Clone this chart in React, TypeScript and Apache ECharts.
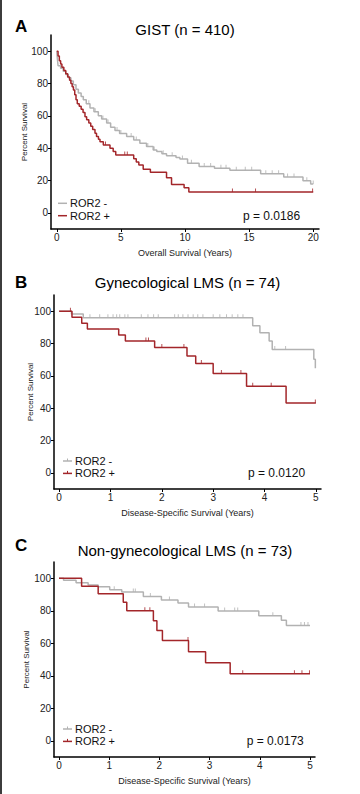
import React, { useEffect, useRef } from "react";
import * as echarts from "echarts";

// ---------- DATA ----------
// Kaplan-Meier step points [time (years), percent survival]
const gistNeg: number[][] = [
  [0, 100], [0.05, 95], [0.1, 91], [0.3, 89.5], [0.5, 87.6], [0.7, 85.5], [0.9, 83.5], [1.1, 81.5],
  [1.29, 79.3], [1.5, 76.5], [1.68, 74.2], [1.9, 72], [2.07, 70], [2.3, 67.5], [2.59, 64.8], [2.9, 62.5],
  [3.24, 60], [3.5, 58], [3.89, 55.5], [4.2, 53], [4.54, 51], [4.9, 49], [5.45, 47.2], [6.0, 45],
  [6.48, 43.1], [7.0, 41], [7.52, 38.9], [7.8, 37.9], [8.2, 36.5], [8.56, 35.3], [9.3, 34.2], [9.6, 33.3],
  [10.2, 30.7], [11.1, 28.6], [12.3, 27.6], [13.5, 26.3], [15.9, 24.2], [17.7, 22.2], [19.2, 19.9],
  [19.8, 17.8], [20, 17.8],
];
const gistNegCensor: number[] = [
  1.7, 2.5, 3.0, 3.6, 4.0, 4.7, 5.0, 5.8, 6.2, 7.1, 7.6, 8.3, 9.0, 9.8, 10.5, 11.5, 12.0, 12.8, 13.2,
  14.0, 14.7, 15.2, 16.3, 16.8, 17.3, 18.0, 18.5, 19.5, 20,
];
const gistPos: number[][] = [
  [0, 100], [0.1, 97], [0.2, 94], [0.3, 92], [0.4, 90], [0.55, 88], [0.7, 86], [0.85, 84], [1.0, 82],
  [1.1, 80], [1.2, 78], [1.3, 76], [1.4, 73], [1.5, 70], [1.6, 67.5], [1.75, 66], [1.9, 64], [2.05, 62],
  [2.2, 59.5], [2.33, 57.6], [2.5, 55.5], [2.65, 53.5], [2.8, 51.5], [2.98, 49.3], [3.1, 47.2],
  [3.25, 45.5], [3.37, 44], [3.63, 42], [4.15, 40], [4.4, 38], [4.6, 35.8], [6.0, 33.5], [6.2, 31.5],
  [6.4, 29.6], [6.74, 27], [7.3, 25.1], [8.56, 21.7], [8.95, 17.6], [9.93, 15.5], [10.3, 12.9], [20, 12.9],
];
const gistPosCensor: number[] = [3.8, 5.3, 5.5, 13.7, 15.5, 19.95];

const gynNeg: number[][] = [
  [0, 100], [0.24, 98.2], [0.47, 95.9], [3.77, 91], [3.91, 86.7], [4.09, 81.5], [4.15, 76.3],
  [4.96, 70.2], [4.99, 64.7],
];
const gynNegCensor: number[] = [
  0.6, 0.79, 0.95, 1.05, 1.12, 1.18, 1.28, 1.34, 1.6, 1.73, 1.84, 1.93, 2.25, 2.32, 2.41, 2.51, 2.61,
  2.7, 2.8, 3.0, 3.13, 3.26, 3.37, 3.48, 3.58, 4.2, 4.41,
];
const gynPos: number[][] = [
  [0, 100], [0.25, 96.3], [0.44, 92.6], [0.55, 88.9], [1.16, 85.2], [1.29, 81.5], [1.86, 77.5],
  [2.49, 72.3], [2.66, 67.6], [3.0, 61.4], [3.65, 53.5], [4.42, 43.2], [5.0, 43.2],
];
const gynPosCensor: number[] = [0.22, 1.69, 1.74, 2.0, 2.43, 2.77, 3.16, 3.54, 3.77, 4.13, 4.99];

const ngNeg: number[][] = [
  [0, 100], [0.09, 98.8], [0.34, 97.2], [0.58, 95.9], [0.78, 94.7], [1.01, 93], [1.25, 91.6],
  [1.68, 88.8], [2.04, 86.6], [2.37, 84.8], [2.58, 82.3], [3.17, 79.8], [3.98, 76.9], [4.43, 74.2],
  [4.53, 70.9], [5.0, 70.9],
];
const ngNegCensor: number[] = [1.1, 1.48, 1.52, 1.82, 2.2, 2.7, 2.9, 3.3, 3.5, 3.56, 4.26, 4.82, 4.89, 4.96];
const ngPos: number[][] = [
  [0, 100], [0.45, 95.1], [0.78, 90.4], [1.28, 85.2], [1.35, 80], [1.88, 73.8], [1.95, 67.8],
  [2.06, 61.7], [2.58, 54.8], [2.92, 48], [3.41, 41.2], [5.0, 41.2],
];
const ngPosCensor: number[] = [1.71, 1.81, 2.57, 3.66, 4.69, 4.84, 4.99];

const groupNames: string[] = ["ROR2 -", "ROR2 +"];
const yTicks: number[] = [0, 20, 40, 60, 80, 100];
const xTicksGist: number[] = [0, 5, 10, 15, 20];
const xTicksLms: number[] = [0, 1, 2, 3, 4, 5];
const panelLetters: string[] = ["A", "B", "C"];
const panelTitles: string[] = ["GIST (n = 410)", "Gynecological LMS (n = 74)", "Non-gynecological LMS (n = 73)"];
const xAxisNames: string[] = [
  "Overall Survival (Years)",
  "Disease-Specific Survival (Years)",
  "Disease-Specific Survival (Years)",
];
const pValues: string[] = ["p = 0.0186", "p = 0.0120", "p = 0.0173"];

// ---------- STYLE ----------
const GREY = "#b2b2b2";
const RED = "#a3262a";
const FONT = "'Liberation Sans', Arial, Helvetica, sans-serif";

function stepAt(curve: number[][], t: number): number {
  let s = curve[0][1];
  for (const [ct, cs] of curve) {
    if (ct <= t) s = cs;
    else break;
  }
  return s;
}

const panels = [
  {
    neg: gistNeg, pos: gistPos, negC: gistNegCensor, posC: gistPosCensor,
    xMin: -0.45, xMax: 20.45, xTicks: xTicksGist,
    grid: { left: 51, top: 35, width: 268, height: 194 },
    yNameGap: 23, titleX: 185, titleY: 29.5, letterY: 26,
    legX: 58, legY: 203.3, legTick: false, pX: 243, pY: 215.7,
  },
  {
    neg: gynNeg, pos: gynPos, negC: gynNegCensor, posC: gynPosCensor,
    xMin: -0.1, xMax: 5.1, xTicks: xTicksLms,
    grid: { left: 54, top: 295, width: 267, height: 194 },
    yNameGap: 20, titleX: 187.5, titleY: 282.5, letterY: 282,
    legX: 63, legY: 461, legTick: true, pX: 248, pY: 473.3,
  },
  {
    neg: ngNeg, pos: ngPos, negC: ngNegCensor, posC: ngPosCensor,
    xMin: -0.1, xMax: 5.1, xTicks: xTicksLms,
    grid: { left: 54, top: 562, width: 261, height: 195 },
    yNameGap: 24, titleX: 185, titleY: 550.5, letterY: 545,
    legX: 63, legY: 729, legTick: true, pX: 246.7, pY: 741,
  },
];

function buildOption() {
  const grids: any[] = [];
  const xAxes: any[] = [];
  const yAxes: any[] = [];
  const series: any[] = [];
  const graphics: any[] = [];

  graphics.push({
    type: "rect",
    shape: { x: 0, y: 0, width: 2, height: 794 },
    style: { fill: "#3c3c3c" },
    silent: true,
  });

  panels.forEach((p, i) => {
    grids.push({ ...p.grid, containLabel: false });
    xAxes.push({
      type: "value",
      gridIndex: i,
      min: p.xMin,
      max: p.xMax,
      name: xAxisNames[i],
      nameLocation: "middle",
      nameGap: 19,
      nameMoveOverlap: false,
      nameTextStyle: { fontSize: 9, color: "#222", fontFamily: FONT },
      axisLine: { show: true, onZero: false, lineStyle: { color: "#000", width: 1.5 } },
      axisTick: { show: true, length: 3, customValues: p.xTicks, lineStyle: { color: "#000", width: 1 } },
      axisLabel: { customValues: p.xTicks, fontSize: 10, color: "#222", margin: 3.5, fontFamily: FONT },
      splitLine: { show: false },
    });
    yAxes.push({
      type: "value",
      gridIndex: i,
      min: -10,
      max: 110,
      name: "Percent Survival",
      nameLocation: "middle",
      nameGap: p.yNameGap,
      nameMoveOverlap: false,
      nameTextStyle: { fontSize: 8, color: "#222", fontFamily: FONT },
      axisLine: { show: true, onZero: false, lineStyle: { color: "#000", width: 1.5 } },
      axisTick: { show: true, length: 3, customValues: yTicks, lineStyle: { color: "#000", width: 1 } },
      axisLabel: { customValues: yTicks, fontSize: 10, color: "#222", margin: 3, fontFamily: FONT },
      splitLine: { show: false },
    });

    const curves = [
      { data: p.neg, censor: p.negC, color: GREY, name: groupNames[0] },
      { data: p.pos, censor: p.posC, color: RED, name: groupNames[1] },
    ];
    curves.forEach((c) => {
      series.push({
        type: "line",
        name: c.name,
        xAxisIndex: i,
        yAxisIndex: i,
        data: c.data,
        step: "end",
        showSymbol: false,
        symbol: "none",
        silent: true,
        lineStyle: { color: c.color, width: 1.5 },
        itemStyle: { color: c.color },
        z: 3,
      });
      series.push({
        type: "scatter",
        name: c.name + " censored",
        xAxisIndex: i,
        yAxisIndex: i,
        data: c.censor.map((t) => [t, stepAt(c.data, t)]),
        symbol: "rect",
        symbolSize: [1, 3.5],
        symbolOffset: [0, -1.75],
        silent: true,
        itemStyle: { color: c.color },
        z: 4,
      });
    });

    // panel letter and title
    graphics.push({
      type: "text",
      x: 15,
      y: p.letterY,
      style: {
        text: panelLetters[i],
        font: `bold 17px ${FONT}`,
        fill: "#000",
        textAlign: "left",
        textVerticalAlign: "middle",
      },
    });
    graphics.push({
      type: "text",
      x: p.titleX,
      y: p.titleY,
      style: {
        text: panelTitles[i],
        font: `15px ${FONT}`,
        fill: "#000",
        textAlign: "center",
        textVerticalAlign: "middle",
      },
    });

    // legend
    [GREY, RED].forEach((col, k) => {
      const ly = p.legY + k * 12.4;
      graphics.push({
        type: "line",
        shape: { x1: p.legX, y1: ly, x2: p.legX + 9, y2: ly },
        style: { stroke: col, lineWidth: 1.5 },
      });
      if (p.legTick) {
        graphics.push({
          type: "line",
          shape: { x1: p.legX + 4.5, y1: ly - 2.5, x2: p.legX + 4.5, y2: ly },
          style: { stroke: col, lineWidth: 1 },
        });
      }
      graphics.push({
        type: "text",
        x: p.legX + 12,
        y: ly,
        style: {
          text: groupNames[k],
          font: `11px ${FONT}`,
          fill: "#111",
          textAlign: "left",
          textVerticalAlign: "middle",
        },
      });
    });

    graphics.push({
      type: "text",
      x: p.pX,
      y: p.pY,
      style: {
        text: pValues[i],
        font: `12px ${FONT}`,
        fill: "#111",
        textAlign: "left",
        textVerticalAlign: "middle",
      },
    });
  });

  return {
    animation: false,
    backgroundColor: "#fff",
    textStyle: { fontFamily: FONT },
    grid: grids,
    xAxis: xAxes,
    yAxis: yAxes,
    series,
    graphic: { elements: graphics },
  };
}

export default function App() {
  const ref = useRef<HTMLDivElement | null>(null);
  useEffect(() => {
    if (!ref.current) return;
    const chart = echarts.init(ref.current, undefined, { renderer: "svg" });
    chart.setOption(buildOption() as any);
    return () => chart.dispose();
  }, []);
  return (
    <div
      ref={ref}
      style={{ position: "absolute", left: 0, top: 0, width: 360, height: 794, background: "#fff" }}
    />
  );
}
